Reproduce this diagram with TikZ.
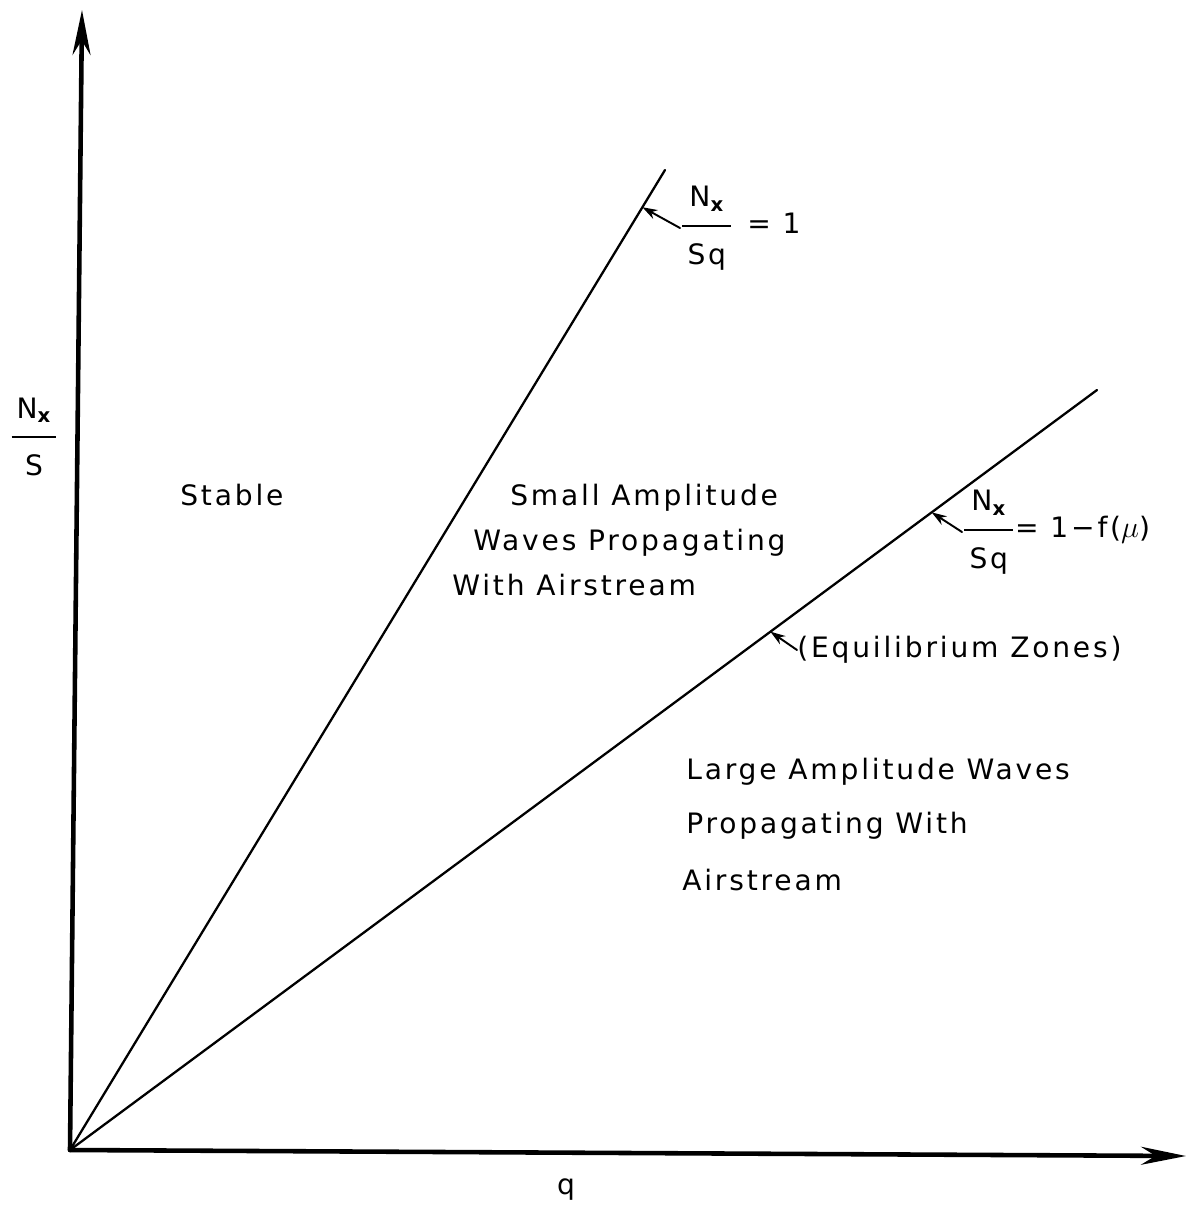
\documentclass[tikz,border=0pt]{standalone}
\usepackage{amsmath}
\usepackage{fontspec}
\setmainfont{DejaVu Sans}[LetterSpace=10]
\usetikzlibrary{arrows.meta,calc}
\newcommand{\nxover}[1]{$\genfrac{}{}{1.1pt}{0}{\,\text{N}_{\textbf{x}}\rule[-7pt]{0pt}{0pt}\,}{\,\text{#1}\rule{0pt}{18pt}\,}$}
\begin{document}
\begin{tikzpicture}[x=0.02cm,y=-0.02cm,line join=round,line cap=round,
    font=\fontsize{16}{19}\selectfont,
    axis/.style={line width=2.6pt,-{Stealth[length=0.9cm,width=0.36cm]}},
    ray/.style={line width=1.3pt},
    tag/.style={line width=1.1pt,-{Stealth[length=0.3cm,width=0.2cm]}},
    txt/.style={anchor=west,inner sep=0pt}]
	\useasboundingbox (0,0) rectangle (1197,1210);
	\coordinate (O) at (70,1150);
	\coordinate (Y) at (82,10);
	\coordinate (X) at (1186,1156);
	\coordinate (A) at (665,170);
	\coordinate (B) at (1097,390);
	\coordinate (PA) at ($(O)!0.962!(A)$);
	\coordinate (PB) at ($(O)!0.839!(B)$);
	\coordinate (PE) at ($(O)!0.682!(B)$);
	\draw[axis] (O)--(Y);
	\draw[axis] (O)--(X);
	\draw[ray] (O)--(A);
	\draw[ray] (O)--(B);
	% axis labels
	\node (ylab) at (34,437) {\nxover{S}};
	\node (xlab) at (566,1190) {q};
	% ray labels
	\node[txt] (f1) at (680,228) {\nxover{Sq}\enspace= 1};
	\node[txt] (f2) at (962,532) {\nxover{Sq}= 1−f($\mu$)};
	\node[txt] (eq) at (797,650) {(Equilibrium Zones)};
	\draw[tag] (f1.west)--(PA);
	\draw[tag] (f2.west)--(PB);
	\draw[tag] (eq.west)--(PE);
	% regions
	\node[txt] (stable) at (180,495) {Stable};
	\node[txt] (s1) at (510,498) {Small Amplitude};
	\node[txt] (s2) at (473,543) {Waves Propagating};
	\node[txt] (s3) at (452,585) {With Airstream};
	\node[txt] (l1) at (686,772) {Large Amplitude Waves};
	\node[txt] (l2) at (686,826) {Propagating With};
	\node[txt] (l3) at (682,880) {Airstream};
\end{tikzpicture}
\end{document}
